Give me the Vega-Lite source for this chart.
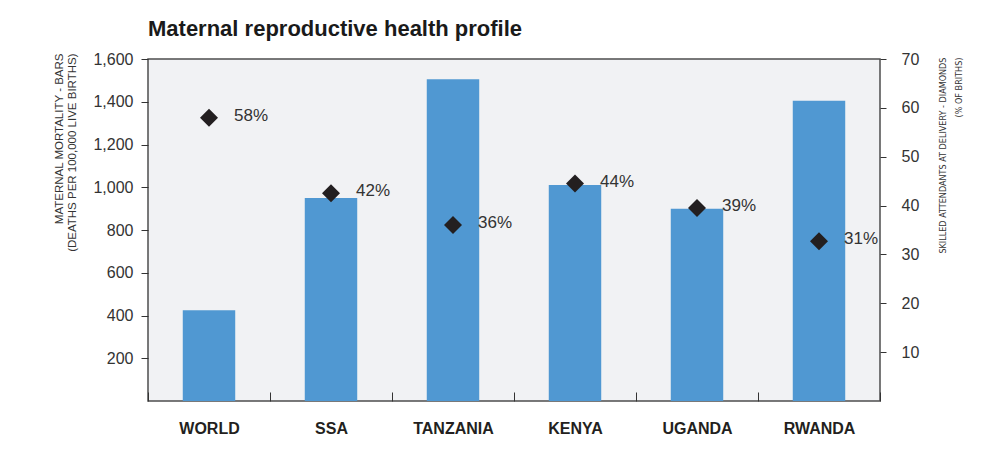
{
  "$schema": "https://vega.github.io/schema/vega-lite/v6.json",
  "width": 732,
  "height": 342,
  "autosize": {"type": "none"},
  "padding": {"left": 148, "top": 59, "right": 114, "bottom": 50},
  "background": "white",
  "title": {
    "text": "Maternal reproductive health profile",
    "anchor": "start",
    "frame": "group",
    "fontSize": 22,
    "fontWeight": "bold",
    "font": "Liberation Sans",
    "color": "#1a1a1a",
    "offset": 10
  },
  "data": {
    "values": [
      {"region": "WORLD", "mortality": 425, "skilled": 58, "label": "58%"},
      {"region": "SSA", "mortality": 950, "skilled": 42.5, "label": "42%"},
      {"region": "TANZANIA", "mortality": 1505, "skilled": 36, "label": "36%"},
      {"region": "KENYA", "mortality": 1010, "skilled": 44.5, "label": "44%"},
      {"region": "UGANDA", "mortality": 900, "skilled": 39.5, "label": "39%"},
      {"region": "RWANDA", "mortality": 1405, "skilled": 32.7, "label": "31%"}
    ]
  },
  "encoding": {
    "x": {
      "field": "region",
      "type": "nominal",
      "sort": null,
      "scale": {"paddingInner": 0, "paddingOuter": 0},
      "axis": {
        "title": null,
        "labelAngle": 0,
        "labelFontSize": 16,
        "labelFontWeight": "bold",
        "labelColor": "#231f20",
        "labelFont": "Liberation Sans",
        "tickBand": "extent",
        "tickSize": -9,
        "tickColor": "#333333",
        "labelPadding": 28,
        "domain": false
      }
    }
  },
  "layer": [
    {
      "mark": {"type": "bar", "width": {"band": 0.43}, "color": "#5098d2"},
      "encoding": {
        "y": {
          "field": "mortality",
          "type": "quantitative",
          "scale": {"domain": [0, 1600], "nice": false},
          "axis": {
            "orient": "left",
            "values": [200, 400, 600, 800, 1000, 1200, 1400, 1600],
            "format": ",.0f",
            "grid": false,
            "domain": false,
            "tickSize": 7,
            "tickColor": "#333333",
            "labelFontSize": 16,
            "labelColor": "#333333",
            "labelFont": "Liberation Sans",
            "labelPadding": 8,
            "title": ["MATERNAL MORTALITY - BARS", "(DEATHS PER 100,000 LIVE BIRTHS)"],
            "titleFont": "Liberation Sans",
            "titleFontSize": 11.5,
            "titleLineHeight": 13,
            "titleFontWeight": "normal",
            "titleColor": "#333333",
            "titleAngle": -90,
            "titleAnchor": "end",
            "titleAlign": "right",
            "titleY": -6,
            "titlePadding": 15
          }
        }
      }
    },
    {
      "mark": {"type": "point", "shape": "diamond", "filled": true, "size": 324, "color": "#231f20", "opacity": 1},
      "encoding": {
        "y": {
          "field": "skilled",
          "type": "quantitative",
          "scale": {"domain": [0, 70], "nice": false},
          "axis": {
            "orient": "right",
            "values": [10, 20, 30, 40, 50, 60, 70],
            "grid": false,
            "domain": false,
            "tickSize": 6,
            "tickColor": "#333333",
            "labelFontSize": 16,
            "labelColor": "#333333",
            "labelFont": "Liberation Sans",
            "labelPadding": 15,
            "title": ["SKILLED ATTENDANTS AT DELIVERY - DIAMONDS", "(% OF BRITHS)"],
            "titleFont": "DejaVu Sans Condensed, Liberation Sans",
            "titleFontSize": 9,
            "titleLineHeight": 16,
            "titleFontWeight": "normal",
            "titleColor": "#333333",
            "titleAngle": -90,
            "titleAnchor": "end",
            "titleAlign": "right",
            "titleY": -2,
            "titlePadding": 13
          }
        }
      }
    },
    {
      "mark": {"type": "text", "align": "left", "baseline": "middle", "dx": 25, "dy": -2, "fontSize": 17, "font": "Liberation Sans", "color": "#333333"},
      "encoding": {
        "y": {"field": "skilled", "type": "quantitative", "scale": {"domain": [0, 70], "nice": false}, "axis": null},
        "text": {"field": "label", "type": "nominal"}
      }
    }
  ],
  "resolve": {"scale": {"y": "independent"}, "axis": {"y": "independent"}},
  "config": {
    "view": {"fill": "#f1f2f4", "stroke": "#4d4d4d", "strokeWidth": 1.5}
  }
}
